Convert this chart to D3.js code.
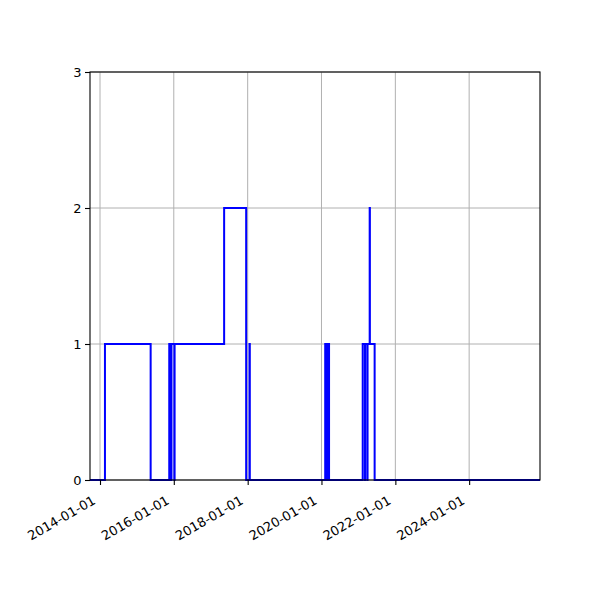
<!DOCTYPE html>
<html lang="en">
<head>
<meta charset="utf-8">
<title>Step chart</title>
<script src="https://d3js.org/d3.v7.min.js"></script>
<style>
    body { margin: 0; background: white; }
    svg { font-family: "DejaVu Sans", sans-serif; }
    .grid line { stroke: #b0b0b0; stroke-width: 1; }
    .series { fill: none; stroke: #0000ff; stroke-width: 2; }
    .frame { fill: none; stroke: black; stroke-width: 1.1; }
</style>
</head>
<body>
<script>
// change points (steps-post)
var dates = ["2013-09-24", "2014-02-19", "2015-05-17", "2015-11-17", "2015-12-07", "2015-12-09",
    "2016-01-07", "2016-01-09", "2017-05-13", "2017-12-17", "2018-01-19", "2018-01-22",
    "2020-02-07", "2020-02-24", "2020-02-27", "2020-03-16", "2021-02-12", "2021-03-06",
    "2021-03-08", "2021-03-30", "2021-04-01", "2021-04-22", "2021-04-24", "2021-06-10",
    "2025-12-02"];
var values = [0, 1, 0, 1, 0, 1, 0, 1, 2, 0, 1, 0, 1, 0, 1, 0, 1, 0, 1, 0, 1, 2, 1, 0, 0];
var yTicks = [0, 1, 2, 3];

var w = 600, h = 600;
var margin = { left: 90, right: 60, top: 72, bottom: 120 };

var parse = d3.timeParse("%Y-%m-%d");
var data = dates.map((d, i) => ({ date: parse(d), value: values[i] }));

var svg = d3.select("body").append("svg")
    .attr("width", w)
    .attr("height", h);

var x = d3.scaleTime()
    .domain(d3.extent(data, d => d.date))
    .range([margin.left, w - margin.right]);
var y = d3.scaleLinear()
    .domain([0, 3])
    .range([h - margin.bottom, margin.top]);

var xTicks = x.ticks(d3.timeYear.every(2));

// grid
var grid = svg.append("g").attr("class", "grid");
grid.selectAll("line.gx").data(xTicks).enter().append("line")
    .attr("x1", d => x(d)).attr("x2", d => x(d))
    .attr("y1", y(0)).attr("y2", y(3));
grid.selectAll("line.gy").data(yTicks).enter().append("line")
    .attr("x1", x.range()[0]).attr("x2", x.range()[1])
    .attr("y1", d => y(d)).attr("y2", d => y(d));

// the step line
var line = d3.line()
    .x(d => x(d.date))
    .y(d => y(d.value))
    .curve(d3.curveStepAfter);

svg.append("path")
    .datum(data)
    .attr("class", "series")
    .attr("d", line);

// frame
svg.append("rect")
    .attr("class", "frame")
    .attr("x", x.range()[0]).attr("y", y(3))
    .attr("width", x.range()[1] - x.range()[0])
    .attr("height", y(0) - y(3));

// x axis
var xAxis = svg.append("g")
    .attr("transform", `translate(0, ${y(0)})`)
    .call(d3.axisBottom(x).tickValues(xTicks).tickSize(5).tickFormat(d3.timeFormat("%Y-%m-%d")));
xAxis.select(".domain").remove();
xAxis.selectAll(".tick line").attr("stroke", "black").attr("stroke-width", 1.1);
xAxis.selectAll("text")
    .attr("font-size", 13)
    .attr("font-family", "DejaVu Sans")
    .attr("fill", "black")
    .attr("text-anchor", "end")
    .attr("dy", null)
    .attr("y", null)
    .attr("transform", "translate(-4, 23) rotate(-30)");

// y axis
var yAxis = svg.append("g")
    .attr("transform", `translate(${x.range()[0]}, 0)`)
    .call(d3.axisLeft(y).tickValues(yTicks).tickSize(5).tickPadding(3.5).tickFormat(d3.format("d")));
yAxis.select(".domain").remove();
yAxis.selectAll(".tick line").attr("stroke", "black").attr("stroke-width", 1.1);
yAxis.selectAll("text")
    .attr("font-size", 13)
    .attr("font-family", "DejaVu Sans")
    .attr("fill", "black");
</script>
</body>
</html>
